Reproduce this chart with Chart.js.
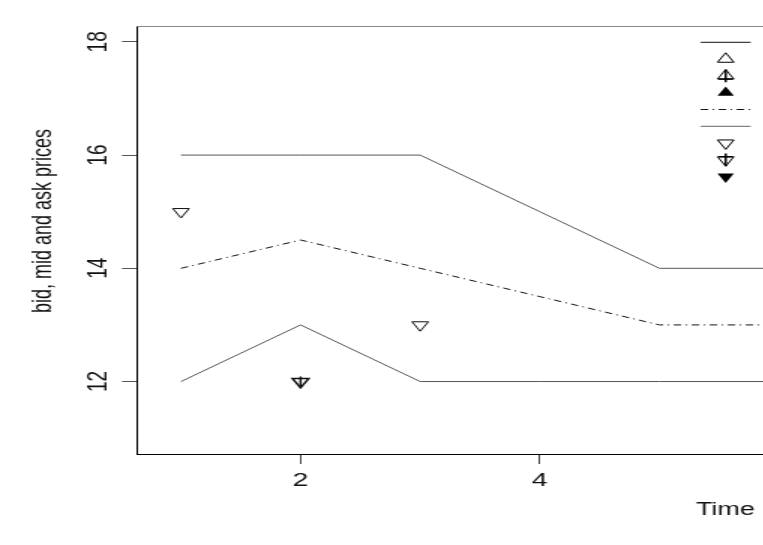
<!DOCTYPE html>
<html><head><meta charset="utf-8">
<script src="https://cdn.jsdelivr.net/npm/chart.js@4/dist/chart.umd.min.js"></script>
<style>
html,body{margin:0;padding:0;background:#fff;overflow:hidden;width:763px;height:545px;}
#wrap{width:509px;height:545px;transform:scaleX(1.5);transform-origin:0 0;}
canvas{display:block;}
</style></head><body>
<div id="wrap"><canvas id="c" width="509" height="545"></canvas></div>
<script>
// ---- data ----
const time = [1, 2, 3, 4, 5, 6];
const askPrices = [16, 16, 16, 15, 14, 14];
const midPrices = [14, 14.5, 14, 13.5, 13, 13];
const bidPrices = [12, 13, 12, 12, 12, 12];
const sellOpenTime = [1, 3];
const sellOpenPrice = [15, 13];
const sellCrossTime = [2];
const sellCrossPrice = [12];
const xTicks = [2, 4];
const yTicks = [12, 14, 16, 18];
const xLabel = 'Time';
const yLabel = 'bid, mid and ask prices';

const pts = (xs, ys) => xs.map((x, i) => ({x: x, y: ys[i]}));
const FONT = "'Liberation Sans', Arial, sans-serif";

// legend symbol list (drawn in the plot's top right)
const legendKeys = [
  {kind: 'line', color: '#111', dash: []},
  {kind: 'tri', up: true, fill: false, bar: false},
  {kind: 'tri', up: true, fill: false, bar: true},
  {kind: 'tri', up: true, fill: true, bar: false},
  {kind: 'line', color: '#111', dash: [5, 3, 1, 3]},
  {kind: 'line', color: '#666', dash: []},
  {kind: 'tri', up: false, fill: false, bar: false},
  {kind: 'tri', up: false, fill: false, bar: true},
  {kind: 'tri', up: false, fill: true, bar: false}
];

function triPath(ctx, x, y, r, up) {
  const s = up ? -1 : 1;
  ctx.beginPath();
  ctx.moveTo(x, y + s * r);
  ctx.lineTo(x - r * 0.866, y - s * r * 0.5);
  ctx.lineTo(x + r * 0.866, y - s * r * 0.5);
  ctx.closePath();
}

const extras = {
  id: 'extras',
  afterDraw(chart) {
    const ctx = chart.ctx, a = chart.chartArea;
    ctx.save();
    // top frame line
    ctx.strokeStyle = '#888'; ctx.lineWidth = 1;
    ctx.beginPath(); ctx.moveTo(a.left, a.top + 0.5); ctx.lineTo(a.right, a.top + 0.5); ctx.stroke();
    // axis titles
    ctx.fillStyle = '#111';
    ctx.font = '18px ' + FONT;
    ctx.textBaseline = 'middle';
    ctx.textAlign = 'right';
    ctx.fillText(xLabel, 503.3, 510);
    ctx.textAlign = 'center';
    ctx.translate(28.7, 221); ctx.rotate(-Math.PI / 2);
    ctx.fillText(yLabel, 0, 0);
    ctx.restore();
    // legend keys
    ctx.save();
    const cx = 483.8, y0 = 42.3, step = 16.8, half = 16.7, r = 6.3;
    legendKeys.forEach((k, i) => {
      const y = y0 + i * step;
      ctx.strokeStyle = k.color || '#000'; ctx.fillStyle = '#000'; ctx.lineWidth = 1;
      if (k.kind === 'line') {
        ctx.setLineDash(k.dash);
        ctx.beginPath(); ctx.moveTo(cx - half, y); ctx.lineTo(cx + half, y); ctx.stroke();
        ctx.setLineDash([]);
      } else {
        triPath(ctx, cx, y, r, k.up);
        if (k.fill) ctx.fill(); else ctx.stroke();
        if (k.bar) {
          ctx.lineWidth = 1.5;
          const t = k.up ? 1 : -1;
          ctx.beginPath(); ctx.moveTo(cx - r * 0.75, y + t * r * 0.5); ctx.lineTo(cx + r * 0.75, y + t * r * 0.5); ctx.stroke();
          ctx.beginPath(); ctx.moveTo(cx, y - r); ctx.lineTo(cx, y + r); ctx.stroke();
        }
      }
    });
    ctx.restore();
  }
};

const lineDs = (label, data, color, dash) => ({
  label, data, showLine: true, borderColor: color, borderWidth: 1,
  borderDash: dash, pointRadius: 0, fill: false, tension: 0
});

new Chart(document.getElementById('c'), {
  type: 'scatter',
  data: {
    datasets: [
      lineDs('ask', pts(time, askPrices), '#555', []),
      lineDs('mid', pts(time, midPrices), '#111', [5, 3, 1, 3]),
      lineDs('bid', pts(time, bidPrices), '#555', []),
      {label: 'sell limit', data: pts(sellOpenTime, sellOpenPrice), pointStyle: 'triangle',
       rotation: 180, pointRadius: 6.3, borderColor: '#111', backgroundColor: 'rgba(0,0,0,0)', borderWidth: 1},
      {label: 'sell market', data: pts(sellCrossTime, sellCrossPrice), pointStyle: 'triangle',
       rotation: 180, pointRadius: 6.3, borderColor: '#111', backgroundColor: 'rgba(0,0,0,0)', borderWidth: 1.5},
      {label: 'sell market bar', data: pts(sellCrossTime, sellCrossPrice), pointStyle: 'line',
       rotation: 90, pointRadius: 5, borderColor: '#111', borderWidth: 1.5}
    ]
  },
  options: {
    responsive: false, animation: false, events: [],
    layout: {autoPadding: false, padding: {left: 0, top: 26, right: 0, bottom: 0}},
    plugins: {legend: {display: false}, tooltip: {enabled: false}},
    scales: {
      x: {
        type: 'linear', min: 0.632, max: 5.87,
        afterBuildTicks: s => { s.ticks = xTicks.map(v => ({value: v})); },
        afterFit: s => { s.height = 91; s.paddingLeft = 0; s.paddingRight = 0; },
        border: {display: true, color: '#000', width: 1},
        grid: {display: true, drawOnChartArea: false, drawTicks: true, tickLength: 10, color: '#444'},
        ticks: {color: '#111', padding: 5, font: {family: FONT, size: 19}}
      },
      y: {
        type: 'linear', min: 10.72, max: 18.28,
        afterBuildTicks: s => { s.ticks = yTicks.map(v => ({value: v})); },
        afterFit: s => { s.width = 91.3; s.paddingTop = 0; s.paddingBottom = 0; },
        border: {display: true, color: '#000', width: 1},
        grid: {display: true, drawOnChartArea: false, drawTicks: true, tickLength: 10, color: '#555'},
        ticks: {color: '#111', padding: 5, minRotation: 90, maxRotation: 90, crossAlign: 'center',
                font: {family: FONT, size: 19}}
      }
    }
  },
  plugins: [extras]
});
</script>
</body></html>
